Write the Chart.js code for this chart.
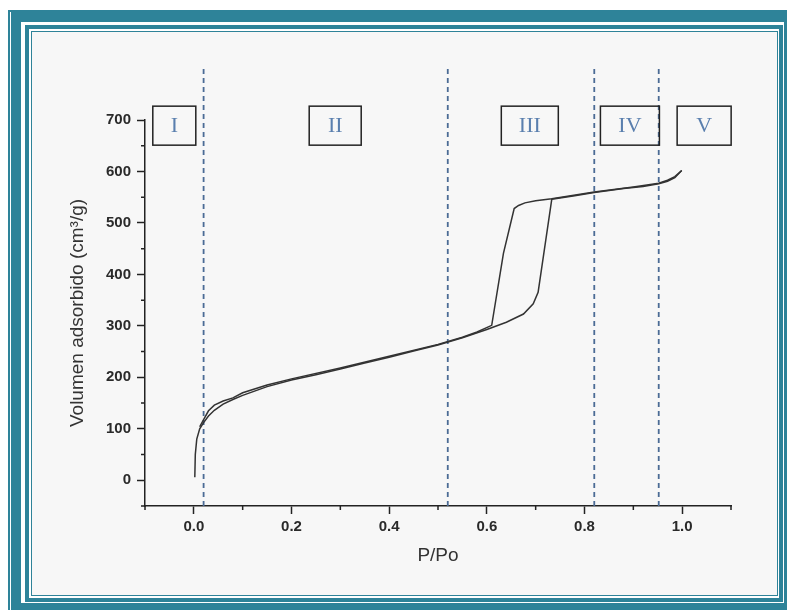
<!DOCTYPE html>
<html>
<head>
<meta charset="utf-8">
<script src="https://cdn.jsdelivr.net/npm/chart.js@4.4.0/dist/chart.umd.min.js"></script>
<style>
  html, body { margin: 0; padding: 0; background: #fff; }
  #marco { position: relative; width: 787px; height: 610px; overflow: hidden; background: #fff; }
  .linea { position: absolute; box-sizing: border-box; border-style: solid; border-color: #2e8399; }
  #l1 { left: 8px; top: 10px; width: 800px; height: 620px; border-width: 2px; }
  #l2 { left: 11px; top: 12px; width: 783px; height: 601px; border-width: 10px; }
  #l3 { left: 25px; top: 25px; width: 758px; height: 577px; border-width: 4px; }
  #l4 { left: 31px; top: 31px; width: 747px; height: 565px; border-width: 1px; background: #f7f7f7; }
  #grafico { position: absolute; left: 0; top: 0; }
</style>
</head>
<body>
<div id="marco">
  <div class="linea" id="l1"></div>
  <div class="linea" id="l2"></div>
  <div class="linea" id="l3"></div>
  <div class="linea" id="l4"></div>
  <canvas id="grafico" width="787" height="610"></canvas>
</div>
<script>
// isoterma de adsorcion (rama ascendente)
const presionAds = [0.002, 0.003, 0.006, 0.012, 0.02, 0.03, 0.042, 0.06, 0.08, 0.1, 0.15, 0.2, 0.25, 0.3, 0.35, 0.4, 0.45, 0.5, 0.55, 0.6, 0.64, 0.675, 0.695, 0.705, 0.733, 0.78, 0.82, 0.88, 0.92, 0.952, 0.97, 0.985, 0.999];
const volumenAds = [6, 50, 80, 100, 112, 125, 136, 148, 157, 165, 182, 195, 205, 216, 228, 239, 251, 263, 277, 293, 307, 323, 343, 365, 546, 553, 559, 567, 571, 576, 581, 588, 602];

// rama de desorcion
const presionDes = [0.999, 0.985, 0.97, 0.952, 0.9, 0.82, 0.733, 0.7, 0.678, 0.665, 0.656, 0.634, 0.61, 0.58, 0.55, 0.5, 0.4, 0.3, 0.2, 0.15, 0.1, 0.08, 0.06, 0.042, 0.03, 0.02, 0.012];
const volumenDes = [602, 590, 583, 577, 570, 560, 547, 543, 539, 534, 528, 441, 301, 288, 278, 264, 241, 218, 197, 185, 170, 160, 154, 146, 135, 118, 104];

// limites de zonas y nombres
const limitesZonas = [0.02, 0.52, 0.82, 0.952];
const zonas = ['I', 'II', 'III', 'IV', 'V'];

const ticksX = [-0.1, 0, 0.1, 0.2, 0.3, 0.4, 0.5, 0.6, 0.7, 0.8, 0.9, 1.0, 1.1];
const ticksY = [-50, 0, 50, 100, 150, 200, 250, 300, 350, 400, 450, 500, 550, 600, 650, 700];

const esMayorX = v => v >= 0 && v <= 1.0 && Math.round(v * 10) % 2 === 0;
const esMayorY = v => v >= 0 && v % 100 === 0;

Chart.defaults.font.family = '"Liberation Sans", Arial, sans-serif';
Chart.defaults.color = '#2a2a2a';

// cajas de las zonas (centro en P/Po, ancho en px)
const cajas = [
  { x: -0.040, w: 43 },
  { x: 0.2895, w: 52 },
  { x: 0.688, w: 57 },
  { x: 0.893, w: 59 },
  { x: 1.045, w: 54 }
];

const extras = {
  id: 'extras',
  afterDraw(chart) {
    const { ctx, scales: { x, y } } = chart;
    ctx.save();
    ctx.strokeStyle = '#222';
    ctx.lineWidth = 1.5;
    ctx.beginPath();
    x.ticks.forEach(t => {
      if (!esMayorX(t.value)) {
        const px = x.getPixelForValue(t.value);
        ctx.moveTo(px, x.top);
        ctx.lineTo(px, x.top + 4);
      }
    });
    y.ticks.forEach(t => {
      if (!esMayorY(t.value)) {
        const py = y.getPixelForValue(t.value);
        ctx.moveTo(y.right, py);
        ctx.lineTo(y.right - 4, py);
      }
    });
    ctx.stroke();

    const cy = y.getPixelForValue(689);
    ctx.font = '22px "Liberation Serif", "DejaVu Serif", serif';
    ctx.textAlign = 'center';
    ctx.textBaseline = 'middle';
    cajas.forEach((c, i) => {
      const cx = x.getPixelForValue(c.x);
      ctx.strokeStyle = '#222';
      ctx.lineWidth = 1.5;
      ctx.strokeRect(cx - c.w / 2, cy - 19.5, c.w, 39);
      ctx.fillStyle = '#5a7fae';
      ctx.fillText(zonas[i], cx, cy + 1);
    });
    ctx.restore();
  }
};

const lineasZonas = limitesZonas.map(p => ({
  data: [{ x: p, y: -50 }, { x: p, y: 800 }],
  showLine: true,
  borderColor: '#4b6b95',
  borderWidth: 1.8,
  borderDash: [5, 4],
  pointRadius: 0,
  clip: false,
  order: 2
}));

new Chart(document.getElementById('grafico'), {
  type: 'scatter',
  data: {
    datasets: [
      {
        label: 'Adsorcion',
        data: presionAds.map((p, i) => ({ x: p, y: volumenAds[i] })),
        showLine: true,
        borderColor: '#333',
        borderWidth: 1.5,
        pointRadius: 0,
        order: 1
      },
      {
        label: 'Desorcion',
        data: presionDes.map((p, i) => ({ x: p, y: volumenDes[i] })),
        showLine: true,
        borderColor: '#333',
        borderWidth: 1.5,
        pointRadius: 0,
        order: 1
      },
      ...lineasZonas
    ]
  },
  options: {
    responsive: false,
    animation: false,
    layout: { padding: { left: 0, top: 120, right: 56, bottom: 0 } },
    plugins: { legend: { display: false }, tooltip: { enabled: false } },
    scales: {
      x: {
        type: 'linear',
        min: -0.1,
        max: 1.1,
        afterBuildTicks: s => { s.ticks = ticksX.map(v => ({ value: v })); },
        afterFit: s => { s.height = 104; },
        border: { color: '#222', width: 1.5 },
        grid: {
          drawOnChartArea: false,
          tickLength: 8,
          tickWidth: 1.5,
          tickColor: c => (c.tick && esMayorX(c.tick.value)) ? '#222' : 'rgba(0,0,0,0)'
        },
        ticks: {
          autoSkip: false,
          maxRotation: 0,
          padding: 4,
          font: { size: 15, weight: 'bold' },
          callback: v => esMayorX(v) ? v.toFixed(1) : ''
        },
        title: {
          display: true,
          text: 'P/Po',
          color: '#333',
          font: { size: 19 },
          padding: { top: 0, bottom: 43 }
        }
      },
      y: {
        type: 'linear',
        min: -50,
        max: 700,
        afterBuildTicks: s => { s.ticks = ticksY.map(v => ({ value: v })); },
        afterFit: s => { s.width = 145; },
        border: { color: '#222', width: 1.5 },
        grid: {
          drawOnChartArea: false,
          tickLength: 8,
          tickWidth: 1.5,
          tickColor: c => (c.tick && esMayorY(c.tick.value)) ? '#222' : 'rgba(0,0,0,0)'
        },
        ticks: {
          autoSkip: false,
          padding: 6,
          font: { size: 15, weight: 'bold' },
          callback: v => esMayorY(v) ? String(v) : ''
        },
        title: {
          display: true,
          text: 'Volumen adsorbido (cm³/g)',
          color: '#333',
          font: { size: 19 },
          padding: { top: 66, bottom: 0 }
        }
      }
    }
  },
  plugins: [extras]
});
</script>
</body>
</html>
